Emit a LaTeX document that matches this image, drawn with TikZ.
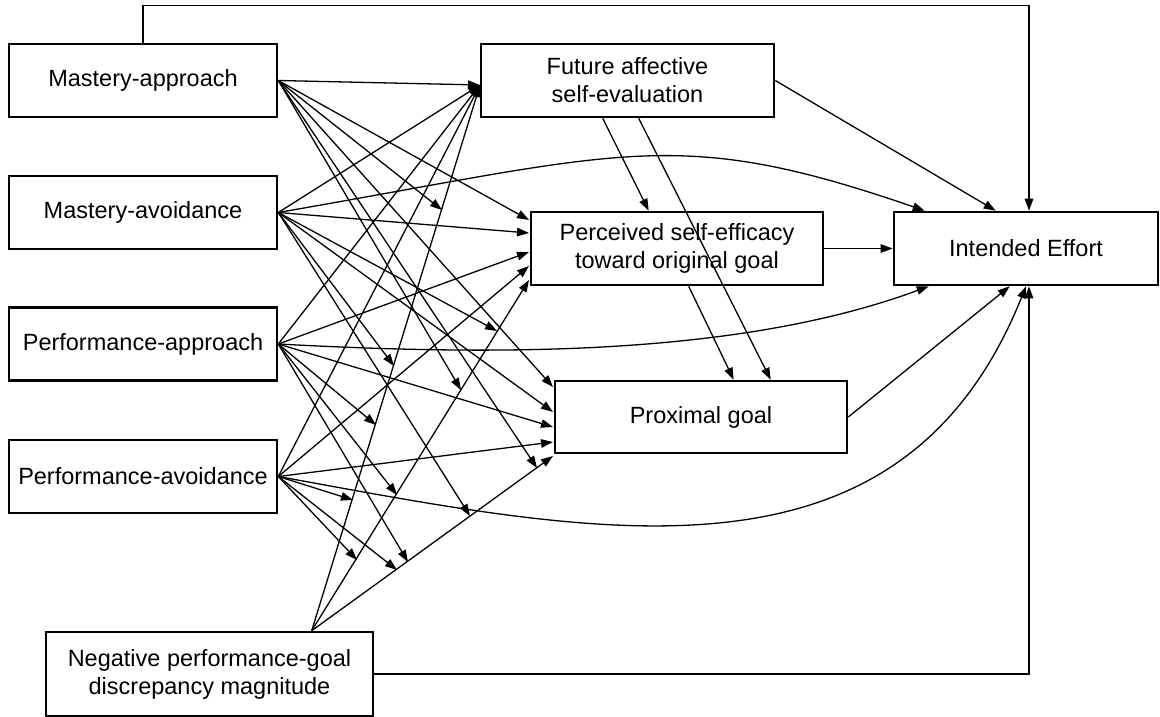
\documentclass[tikz,border=0pt]{standalone}
\usepackage{fontspec}
\setmainfont{Liberation Sans}
\usetikzlibrary{arrows.meta,calc}
\begin{document}
\begin{tikzpicture}[x=1pt,y=-1pt,
  box/.style={draw=black,line width=2.6pt,fill=white,inner sep=0pt,align=center,
              font=\fontsize{23.5}{28}\selectfont},
  wide/.style={box,minimum width=268pt,minimum height=73pt},
  link/.style={line width=1.3pt,-{Triangle[length=12pt,width=8.5pt]}}]
\useasboundingbox (0,0) rectangle (1160,717);

% predictors
\node[wide] (MAp) at (143,80.5) {Mastery-approach};
\node[wide] (MAv) at (143,212.5) {Mastery-avoidance};
\node[wide] (PAp) at (143,344) {Performance-approach};
\node[wide] (PAv) at (143,476.5) {Performance-avoidance};
\node[box,minimum width=327pt,minimum height=84pt] (Neg) at (209.5,674)
  {Negative performance-goal\\discrepancy magnitude};

% mediators and outcome
\node[box,minimum width=293pt,minimum height=73pt] (FA) at (627.5,80.5)
  {Future affective\\self-evaluation};
\node[box,minimum width=292pt,minimum height=73pt] (PSE) at (677,248.5)
  {Perceived self-efficacy\\toward original goal};
\node[box,minimum width=292pt,minimum height=72pt] (PG) at (701,417) {Proximal goal};
\node[box,minimum width=264pt,minimum height=73pt] (IE) at (1026,248.5) {Intended Effort};

% entry points on the mediators
\coordinate (fa) at (480,85);
\coordinate (pse1) at (529,220);
\coordinate (pse2) at (529,233);
\coordinate (pse3) at (529,252);
\coordinate (pse4) at (529,266);
\coordinate (pse5) at (529,280);
\coordinate (pg1) at (553,387);
\coordinate (pg2) at (553,412);
\coordinate (pg3) at (553,427);
\coordinate (pg4) at (553,442);
\coordinate (pg5) at (553,456);
\coordinate (negsrc) at ($(Neg.north west)+(267,0)$);

% discrepancy paths
\draw[link] (negsrc) -- (fa);
\draw[link] (negsrc) -- (pse5);
\draw[link] (negsrc) -- (pg5);

% direct paths from the goal orientations
\foreach \s/\p/\g in {MAp/pse1/pg1, MAv/pse2/pg2, PAp/pse3/pg3, PAv/pse4/pg4}{
  \draw[link] (\s.east) -- (fa);
  \draw[link] (\s.east) -- (\p);
  \draw[link] (\s.east) -- (\g);
}

% interaction arrows onto the discrepancy paths
\coordinate (xa) at (442,210);
\coordinate (xc) at (394,366);
\coordinate (xd) at (376,425);
\coordinate (xg) at (353,500);
\coordinate (xb) at (497,331);
\coordinate (xe) at (461,390);
\coordinate (xh) at (397,495);
\coordinate (xi) at (357,560);
\coordinate (xm) at (537,468);
\coordinate (xl) at (470,516);
\coordinate (xk) at (408,562);
\coordinate (xj) at (397,570);
\foreach \s/\a/\b/\c in {MAp/xa/xe/xm, MAv/xc/xb/xl, PAp/xd/xh/xk, PAv/xg/xi/xj}{
  \draw[link] (\s.east) -- (\a);
  \draw[link] (\s.east) -- (\b);
  \draw[link] (\s.east) -- (\c);
}

% mediator paths
\draw[link] ($(FA.south west)+(123,0)$) -- ($(PSE.north west)+(119,0)$);
\draw[link] ($(FA.south west)+(159,0)$) -- ($(PG.north west)+(217,0)$);
\draw[link] ($(PSE.south west)+(159,0)$) -- ($(PG.north west)+(180,0)$);

% paths into intended effort
\draw[link] (FA.east) -- ($(IE.north west)+(103,0)$);
\draw[link] (PSE.east) -- (IE.west);
\draw[link] (PG.east) -- ($(IE.south west)+(117,0)$);
\draw[link] (MAv.east) .. controls (627,152) and (676,125) .. ($(IE.north west)+(32,0)$);
\draw[link] (PAp.east) .. controls (500,356) and (740,356) .. ($(IE.south west)+(36,0)$);
\draw[link] (PAv.east) .. controls (600,535) and (900,600) .. (IE.south);
\draw[link] (MAp.north) -- ++(0,-37) -| ($(IE.north)+(3,0)$);
\draw[link] (Neg.east) -| ($(IE.south)+(3,0)$);
\end{tikzpicture}
\end{document}
